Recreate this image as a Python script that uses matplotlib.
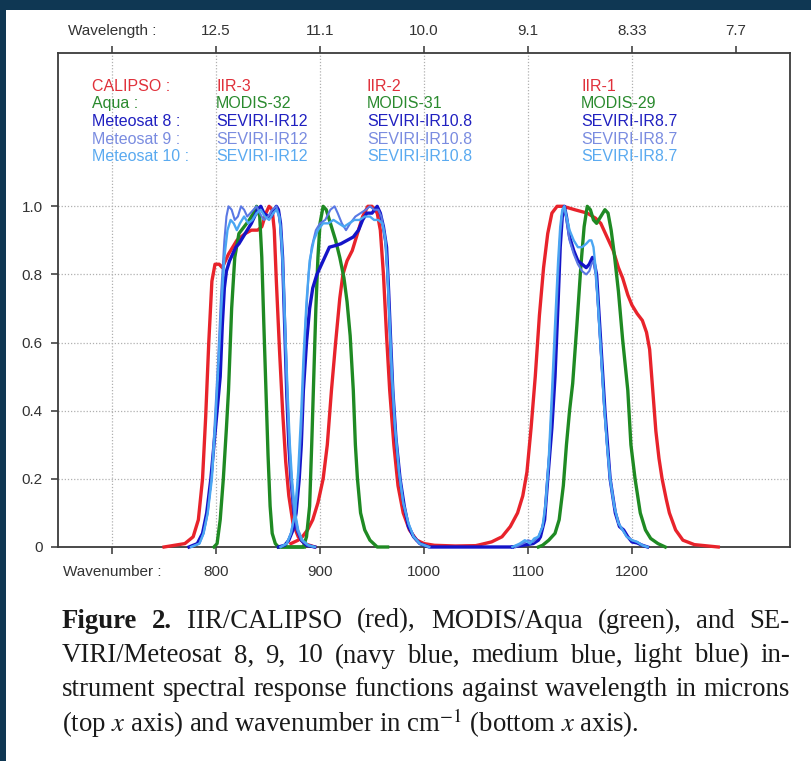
import matplotlib
matplotlib.use("Agg")
import matplotlib.pyplot as plt
from matplotlib.patches import Rectangle

plt.rcParams['font.family'] = ['Liberation Sans', 'DejaVu Sans']
plt.rcParams['mathtext.fontset'] = 'stix'

# spectral response functions, one list per band (IR12 / IR10.8 / IR8.7 order)
calipso_wn = [
    [750, 770, 778, 783, 787, 790, 793, 796, 799, 803, 806, 812, 820, 828, 834, 840, 844, 848, 851, 854,
     856, 858, 861, 864, 867, 870, 874, 879, 885, 895],
    [872, 879, 883, 888, 893, 898, 903, 907, 911, 915, 919, 922, 926, 931, 936, 941, 946, 950, 955, 958,
     961, 964, 967, 971, 975, 980, 986, 993, 1000, 1010, 1030, 1050],
    [1050, 1065, 1075, 1083, 1090, 1095, 1099, 1103, 1107, 1111, 1115, 1119, 1123, 1128, 1134, 1145, 1157,
     1165, 1170, 1176, 1182, 1187, 1191, 1196, 1200, 1205, 1210, 1214, 1217, 1220, 1223, 1226, 1229, 1233,
     1236, 1242, 1249, 1260, 1283],
]
calipso_rsf = [
    [0, 0.01, 0.03, 0.08, 0.2, 0.38, 0.6, 0.78, 0.83, 0.83, 0.82, 0.86, 0.9, 0.92, 0.93, 0.93, 0.94, 0.98,
     1.0, 0.99, 0.93, 0.78, 0.58, 0.4, 0.25, 0.15, 0.07, 0.03, 0.01, 0],
    [0.01, 0.02, 0.03, 0.05, 0.08, 0.13, 0.2, 0.3, 0.46, 0.6, 0.73, 0.8, 0.84, 0.87, 0.92, 0.97, 1.0, 1.0,
     0.98, 0.93, 0.8, 0.62, 0.46, 0.3, 0.18, 0.1, 0.05, 0.02, 0.01, 0.005, 0.003, 0.004],
    [0.004, 0.015, 0.03, 0.06, 0.1, 0.15, 0.22, 0.35, 0.5, 0.68, 0.82, 0.92, 0.98, 1.0, 1.0, 0.99, 0.98,
     0.965, 0.95, 0.91, 0.87, 0.82, 0.79, 0.74, 0.71, 0.685, 0.665, 0.63, 0.58, 0.46, 0.34, 0.26, 0.2,
     0.14, 0.1, 0.05, 0.02, 0.007, 0],
]

aqua_wn = [
    [798, 801, 804, 807, 810, 812, 815, 818, 822, 827, 832, 836, 839, 842, 844, 846, 848, 850, 852, 854,
     857, 860, 885],
    [860, 884, 887, 890, 892, 894, 896, 898, 900, 903, 906, 910, 915, 919, 923, 926, 929, 932, 934, 936,
     939, 943, 948, 955, 965],
    [1110, 1114, 1120, 1126, 1130, 1134, 1137, 1140, 1143, 1147, 1151, 1154, 1157, 1160, 1163, 1166, 1170,
     1174, 1177, 1180, 1183, 1187, 1191, 1196, 1199, 1203, 1208, 1213, 1218, 1225, 1232],
]
aqua_rsf = [
    [0, 0.01, 0.08, 0.2, 0.35, 0.46, 0.7, 0.85, 0.92, 0.94, 0.96, 0.98, 1.0, 0.97, 0.85, 0.65, 0.46, 0.27,
     0.12, 0.04, 0.01, 0, 0],
    [0, 0, 0.03, 0.12, 0.3, 0.5, 0.7, 0.85, 0.95, 1.0, 0.99, 0.95, 0.9, 0.85, 0.79, 0.72, 0.62, 0.46, 0.3,
     0.2, 0.1, 0.05, 0.02, 0, 0],
    [0, 0.005, 0.02, 0.04, 0.08, 0.18, 0.3, 0.4, 0.48, 0.65, 0.83, 0.94, 1.0, 0.99, 0.96, 0.95, 0.97, 0.99,
     0.98, 0.93, 0.86, 0.75, 0.61, 0.46, 0.3, 0.2, 0.1, 0.05, 0.025, 0.01, 0],
]

met8_wn = [
    [774, 782, 787, 791, 795, 798, 801, 804, 806, 808, 810, 813, 816, 819, 822, 826, 830, 834, 837, 840,
     843, 846, 850, 853, 856, 858, 860, 862, 864, 866, 868, 870, 872, 875, 878, 882, 887, 895],
    [860, 866, 870, 874, 877, 880, 882, 884, 887, 890, 893, 897, 903, 909, 915, 920, 926, 932, 937, 941,
     945, 950, 955, 958, 961, 964, 966, 968, 970, 973, 977, 981, 985, 990, 996, 1005, 1085],
    [1085, 1095, 1105, 1110, 1112, 1116, 1119, 1123, 1126, 1129, 1131, 1133, 1135, 1137, 1140, 1144, 1148,
     1152, 1156, 1159, 1162, 1164, 1166, 1168, 1171, 1174, 1177, 1179, 1184, 1188, 1192, 1196, 1200, 1205,
     1210, 1215],
]
met8_rsf = [
    [0, 0.01, 0.04, 0.1, 0.2, 0.3, 0.4, 0.5, 0.65, 0.76, 0.81, 0.84, 0.86, 0.88, 0.89, 0.91, 0.93, 0.95,
     0.97, 0.99, 1.0, 0.98, 0.97, 0.97, 0.99, 1.0, 0.99, 0.95, 0.85, 0.65, 0.45, 0.3, 0.2, 0.1, 0.05, 0.02,
     0.005, 0],
    [0, 0.005, 0.02, 0.05, 0.1, 0.2, 0.3, 0.46, 0.6, 0.7, 0.76, 0.8, 0.84, 0.88, 0.885, 0.89, 0.9, 0.91,
     0.93, 0.96, 0.98, 0.98, 1.0, 0.98, 0.94, 0.88, 0.75, 0.6, 0.46, 0.32, 0.2, 0.12, 0.06, 0.03, 0.01, 0, 0],
    [0, 0.005, 0.01, 0.02, 0.03, 0.08, 0.2, 0.35, 0.5, 0.72, 0.88, 0.97, 1.0, 0.97, 0.91, 0.87, 0.84,
     0.83, 0.82, 0.83, 0.85, 0.83, 0.8, 0.7, 0.55, 0.4, 0.28, 0.2, 0.1, 0.06, 0.05, 0.03, 0.015, 0.012,
     0.005, 0],
]

met9_wn = [
    [776, 784, 788, 792, 796, 799, 802, 805, 808, 810, 812, 815, 818, 821, 824, 827, 830, 833, 836, 839,
     842, 846, 850, 854, 858, 860, 862, 864, 866, 868, 870, 872, 875, 878, 882, 888, 895],
    [862, 868, 872, 876, 879, 882, 884, 886, 889, 892, 896, 900, 905, 910, 914, 917, 921, 925, 929, 934,
     939, 944, 948, 952, 956, 959, 962, 965, 967, 969, 972, 976, 980, 985, 990, 996, 1005],
    [1088, 1095, 1100, 1105, 1110, 1114, 1117, 1120, 1123, 1126, 1129, 1131, 1133, 1135, 1137, 1140, 1144,
     1148, 1152, 1156, 1159, 1161, 1163, 1165, 1167, 1170, 1173, 1176, 1179, 1183, 1187, 1191, 1195, 1200,
     1205, 1210, 1215],
]
met9_rsf = [
    [0, 0.01, 0.04, 0.1, 0.22, 0.38, 0.55, 0.75, 0.9, 0.97, 1.0, 0.99, 0.96, 0.97, 1.0, 0.99, 0.97, 0.98,
     0.99, 1.0, 0.98, 0.96, 0.97, 0.99, 1.0, 0.98, 0.94, 0.84, 0.65, 0.46, 0.32, 0.2, 0.1, 0.05, 0.02,
     0.005, 0],
    [0, 0.01, 0.04, 0.1, 0.2, 0.35, 0.5, 0.65, 0.8, 0.88, 0.93, 0.95, 0.96, 0.99, 1.0, 0.98, 0.95, 0.93,
     0.95, 0.97, 0.98, 0.99, 1.0, 0.99, 0.99, 0.97, 0.92, 0.8, 0.65, 0.5, 0.35, 0.22, 0.13, 0.07, 0.03,
     0.01, 0],
    [0, 0.01, 0.02, 0.015, 0.03, 0.06, 0.12, 0.25, 0.42, 0.6, 0.8, 0.92, 0.98, 1.0, 0.96, 0.9, 0.86, 0.83,
     0.81, 0.8, 0.81, 0.83, 0.84, 0.8, 0.72, 0.58, 0.42, 0.3, 0.2, 0.12, 0.07, 0.05, 0.03, 0.02, 0.015,
     0.005, 0],
]

met10_wn = [
    [776, 784, 788, 792, 796, 799, 802, 805, 808, 811, 814, 817, 820, 823, 827, 831, 835, 839, 843, 847,
     851, 855, 858, 861, 863, 865, 867, 869, 871, 873, 876, 879, 883, 889, 895],
    [862, 868, 872, 876, 879, 882, 884, 887, 890, 894, 898, 903, 908, 913, 918, 923, 928, 933, 938, 943,
     948, 952, 956, 960, 963, 965, 967, 969, 972, 976, 980, 985, 990, 996, 1005],
    [1085, 1092, 1097, 1102, 1106, 1110, 1114, 1117, 1120, 1123, 1126, 1129, 1131, 1133, 1135, 1137, 1140,
     1144, 1148, 1152, 1156, 1159, 1161, 1163, 1165, 1167, 1170, 1173, 1176, 1179, 1183, 1187, 1191, 1195,
     1200, 1205, 1210, 1215],
]
met10_rsf = [
    [0, 0.01, 0.04, 0.1, 0.2, 0.35, 0.52, 0.7, 0.85, 0.93, 0.96, 0.95, 0.93, 0.95, 0.97, 0.95, 0.96, 0.98,
     0.99, 0.97, 0.96, 0.98, 0.99, 0.97, 0.9, 0.78, 0.6, 0.44, 0.3, 0.2, 0.1, 0.05, 0.02, 0.005, 0],
    [0, 0.01, 0.04, 0.1, 0.22, 0.4, 0.55, 0.72, 0.84, 0.9, 0.93, 0.95, 0.95, 0.96, 0.95, 0.94, 0.95, 0.96,
     0.96, 0.97, 0.97, 0.96, 0.96, 0.95, 0.9, 0.8, 0.66, 0.52, 0.36, 0.22, 0.13, 0.07, 0.03, 0.01, 0],
    [0, 0.01, 0.02, 0.01, 0.025, 0.03, 0.06, 0.13, 0.26, 0.45, 0.65, 0.84, 0.94, 0.99, 1.0, 0.97, 0.93,
     0.9, 0.88, 0.88, 0.89, 0.9, 0.9, 0.88, 0.82, 0.73, 0.58, 0.43, 0.3, 0.2, 0.12, 0.07, 0.05, 0.03, 0.02,
     0.015, 0.005, 0],
]

instruments = ["CALIPSO :", "Aqua :", "Meteosat 8 :", "Meteosat 9 :", "Meteosat 10 :"]
band_names = [
    ["IIR-3", "IIR-2", "IIR-1"],
    ["MODIS-32", "MODIS-31", "MODIS-29"],
    ["SEVIRI-IR12", "SEVIRI-IR10.8", "SEVIRI-IR8.7"],
    ["SEVIRI-IR12", "SEVIRI-IR10.8", "SEVIRI-IR8.7"],
    ["SEVIRI-IR12", "SEVIRI-IR10.8", "SEVIRI-IR8.7"],
]
colors = ["#e8232b", "#1f8a23", "#1414c8", "#5a78e4", "#4aa6f2"]
text_colors = ["#e0303a", "#2a8a2e", "#2020c0", "#7a8ce0", "#5aaaf0"]
widths = [2.4, 2.4, 2.4, 1.5, 1.7]

bottom_ticks = [700, 800, 900, 1000, 1100, 1200]
bottom_labels = ["Wavenumber :", "800", "900", "1000", "1100", "1200"]
top_ticks = [700, 800, 900, 1000, 1100, 1200, 1300]
top_labels = ["Wavelength :", "12.5", "11.1", "10.0", "9.1", "8.33", "7.7"]
y_ticks = [0, 0.2, 0.4, 0.6, 0.8, 1.0]
y_labels = ["0", "0.2", "0.4", "0.6", "0.8", "1.0"]

W, H = 812, 761
fig = plt.figure(figsize=(W / 100, H / 100), dpi=100)
fig.patch.set_facecolor("#0f3753")
fig.add_artist(Rectangle((6 / W, 0), 1 - 6 / W, 1 - 10 / H, transform=fig.transFigure,
                         facecolor="white", edgecolor="none", zorder=-5))

ax = fig.add_axes([58 / W, 214 / H, 732 / W, 494 / H])
ax.set_xlim(648, 1352)
ax.set_ylim(0, 1.45)

all_wn = [calipso_wn, aqua_wn, met8_wn, met9_wn, met10_wn]
all_rsf = [calipso_rsf, aqua_rsf, met8_rsf, met9_rsf, met10_rsf]
draw_order = [0, 1, 4, 3, 2]
for k in draw_order:
    for wn, rsf in zip(all_wn[k], all_rsf[k]):
        ax.plot(wn, rsf, color=colors[k], lw=widths[k], clip_on=False, zorder=3 + k * 0.1,
                solid_joinstyle="round")

ax.set_xticks(bottom_ticks, labels=bottom_labels)
ax.set_yticks(y_ticks, labels=y_labels)
ax.grid(True, linestyle=(0, (1, 1.5)), color="#b0b0b0", linewidth=0.9)
for s in ax.spines.values():
    s.set_color("#3c3c3c")
    s.set_linewidth(1.3)
ax.tick_params(axis="x", direction="out", length=5, width=1.2, color="#444444",
               labelcolor="#333333", labelsize=11, pad=8)
ax.tick_params(axis="y", direction="out", length=5, width=1.2, color="#444444",
               labelcolor="#333333", labelsize=11, pad=6)

top = ax.secondary_xaxis("top")
top.set_xticks(top_ticks, labels=top_labels)
top.tick_params(direction="out", length=5, width=1.2, color="#444444",
                labelcolor="#333333", labelsize=11, pad=6)
top.spines["top"].set_visible(False)

# band legend
col_x = [680.8, 800, 945, 1151]
row_y0 = 1.352
row_dy = 0.0515
for i, name in enumerate(instruments):
    y = row_y0 - i * row_dy
    ax.text(col_x[0], y, name, color=text_colors[i], fontsize=11.5, va="center", ha="left")
    for j, band in enumerate(band_names[i]):
        ax.text(col_x[j + 1], y, band, color=text_colors[i], fontsize=11.5, va="center", ha="left")

# caption, justified word by word
cap_font = ["Liberation Serif", "DejaVu Serif"]
cap_size = 19.3
cap_lines = [
    [("Figure", "bold"), ("2.", "bold"), ("IIR/CALIPSO", "normal"), ("(red),", "normal"),
     ("MODIS/Aqua", "normal"), ("(green),", "normal"), ("and", "normal"), ("SE-", "normal")],
    [(w, "normal") for w in "VIRI/Meteosat 8, 9, 10 (navy blue, medium blue, light blue) in-".split()],
    [(w, "normal") for w in "strument spectral response functions against wavelength in microns".split()],
]
cap_y = [621, 656, 690]
x0, x1 = 62, 790
renderer = fig.canvas.get_renderer()
for words, ypx in zip(cap_lines, cap_y):
    texts = [fig.text(0, 1 - ypx / H, w, family=cap_font, fontsize=cap_size, fontweight=wt,
                      color="#1a1a1a", va="center", ha="left") for w, wt in words]
    ws = [t.get_window_extent(renderer).width for t in texts]
    gap = (x1 - x0 - sum(ws)) / (len(ws) - 1)
    x = x0
    for t, w in zip(texts, ws):
        t.set_x(x / W)
        x += w + gap

fig.text(x0 / W, 1 - 723 / H, r"(top $x$ axis) and wavenumber in cm$^{-1}$ (bottom $x$ axis).",
         family=cap_font, fontsize=cap_size, color="#1a1a1a", va="center", ha="left")

fig.savefig("out.png", dpi=100, facecolor=fig.get_facecolor())
